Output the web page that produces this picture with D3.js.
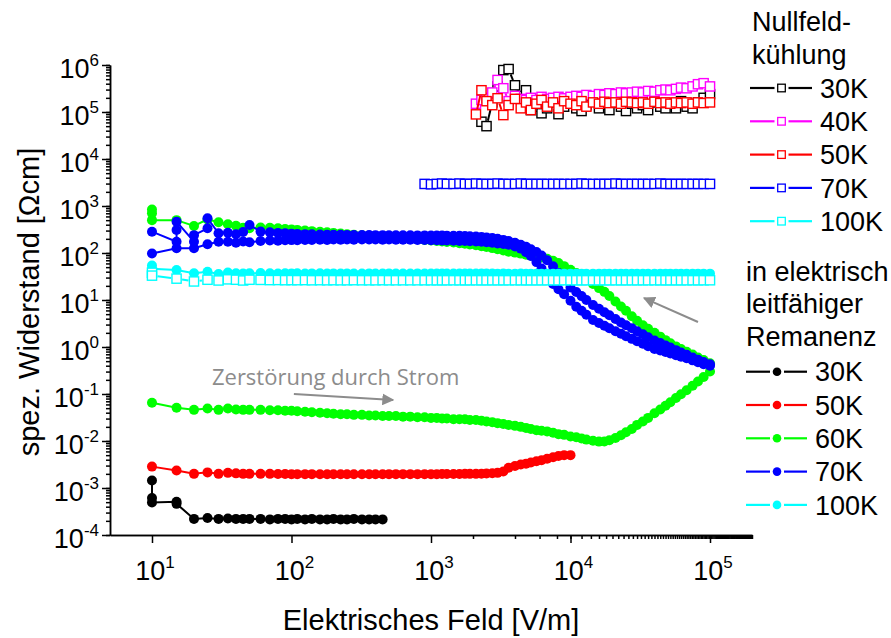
<!DOCTYPE html>
<html>
<head>
<meta charset="utf-8">
<script src="https://cdn.jsdelivr.net/npm/d3@7/dist/d3.min.js"></script>
<style>
  body { margin: 0; background: #fff; }
  svg { display: block; }
</style>
</head>
<body>
<svg id="chart" width="891" height="638"></svg>
<script>
// ---- Messfelder [V/m] ----
const feldGitter = [10, 15, 20, 25, 30, 35, 40, 45, 50,
  60, 70, 80, 90, 100, 110, 125, 140, 160, 180, 200, 225, 250, 280, 320, 360, 400, 450, 500, 560, 630, 710, 800, 900,
  1000, 1100, 1200, 1300, 1450, 1600, 1750, 1900, 2100, 2300, 2500, 2750, 3000, 3300, 3600, 4000, 4400, 4800, 5200, 5700, 6200, 6800, 7500, 8200, 9000,
  10000, 11000, 12000, 13000, 14500, 16000, 17500, 19000, 21000, 23000, 25000, 27500, 30000, 33000, 36000, 40000, 44000, 48000, 52000, 57000, 62000, 68000, 75000, 82000, 90000,
  100000];

// ---- Nullfeldkühlung (offene Quadrate) ----
const null30K_x = feldGitter.slice(42);
const null30K_y = [6.2e4, 5.0e4, 1.6e5, 3.5e5, 7.8e5, 8.2e5, 3.7e5, 2.2e5, 2.9e5, 1.1e5, 1.3e5, 9.4e4, 1.2e5, 1.6e5, 9.0e4, 1.3e5,
  1.7e5, 1.2e5, 1.05e5, 1.4e5, 1.8e5, 1.2e5, 1.5e5, 1.1e5, 1.6e5, 1.3e5, 1.05e5, 1.5e5, 1.2e5, 1.4e5, 1.1e5, 1.6e5, 1.3e5, 1.2e5, 1.5e5, 1.2e5, 1.7e5, 1.3e5, 1.2e5, 1.6e5, 2.0e5,
  2.4e5];

const null40K_x = feldGitter.slice(41);
const null40K_y = [1.5e5, 1.8e5, 2.0e5, 2.6e5, 4.8e5, 3.2e5, 1.7e5, 2.2e5, 1.9e5, 1.8e5, 2.0e5, 1.8e5, 2.1e5, 1.9e5, 2.0e5, 2.1e5, 1.95e5,
  2.1e5, 2.2e5, 2.1e5, 2.3e5, 2.2e5, 2.4e5, 2.3e5, 2.5e5, 2.4e5, 2.6e5, 2.5e5, 2.6e5, 2.7e5, 2.6e5, 2.8e5, 2.7e5, 2.9e5, 3.0e5, 2.9e5, 3.1e5, 3.3e5, 3.2e5, 3.5e5, 3.9e5, 4.1e5,
  3.5e5];

const null50K_x = feldGitter.slice(41);
const null50K_y = [8.9e4, 2.9e5, 1.7e5, 1.4e5, 1.96e5, 8.6e4, 1.4e5, 1.9e5, 1.2e5, 1.6e5, 1.1e5, 1.5e5, 1.8e5, 1.3e5, 1.6e5, 1.2e5, 1.7e5,
  1.5e5, 1.4e5, 1.7e5, 1.3e5, 1.6e5, 1.5e5, 1.65e5, 1.55e5, 1.6e5, 1.5e5, 1.65e5, 1.6e5, 1.55e5, 1.6e5, 1.5e5, 1.65e5, 1.55e5, 1.6e5, 1.5e5, 1.6e5, 1.55e5, 1.6e5, 1.5e5, 1.6e5, 1.55e5,
  1.6e5];

const null70K_x = feldGitter.slice(32);
const null70K_y = [2950, 2900, 2950, 3000, 2950, 2950, 3000, 2950, 2950, 3000, 2950, 2950, 2950, 3000, 2950, 2950, 2950, 3000, 2950, 2950, 2950, 2950, 2950, 2950, 2950, 2950,
  2950, 2950, 3000, 2950, 2950, 2950, 2950, 2950, 3000, 2950, 2950, 2950, 2950, 2950, 2950, 2950, 3000, 2950, 2950, 2950, 2950, 2950, 2950, 2950, 2950, 2950];

const null100K_x = [10].concat(feldGitter);
const null100K_y = [38, 33, 28.5, 24.8, 27, 26, 27.5, 27, 26, 27,
  26.8, 26.5, 26.6, 26.4, 26.5, 26.4, 26.5, 26.3, 26.4, 26.3, 26.4, 26.3, 26.3, 26.4, 26.3, 26.3, 26.3, 26.4, 26.3, 26.3, 26.3, 26.3, 26.3, 26.3,
  26.3, 26.3, 26.3, 26.3, 26.3, 26.3, 26.3, 26.3, 26.3, 26.3, 26.3, 26.3, 26.3, 26.3, 26.3, 26.3, 26.3, 26.3, 26.3, 26.3, 26.3, 26.3, 26.3, 26.3, 26.3,
  26.3, 26.3, 26.3, 26.3, 26.3, 26.3, 26.3, 26.3, 26.3, 26.3, 26.3, 26.3, 26.3, 26.3, 26.3, 26.3, 26.3, 26.3, 26.3, 26.3, 26.3, 26.3, 26.3, 26.3, 26.3,
  26.3];

// ---- in elektrisch leitfähiger Remanenz (gefüllte Kreise) ----
const rem30K_x = [10, 10, 10, 15].concat(feldGitter.slice(1, 27));
const rem30K_y = [1.45e-3, 6.1e-4, 4.9e-4, 5.1e-4, 4.6e-4, 2.2e-4, 2.3e-4, 2.2e-4, 2.25e-4, 2.2e-4, 2.2e-4, 2.2e-4,
  2.2e-4, 2.15e-4, 2.2e-4, 2.2e-4, 2.15e-4, 2.2e-4, 2.15e-4, 2.2e-4, 2.15e-4, 2.15e-4, 2.2e-4, 2.15e-4, 2.15e-4, 2.2e-4, 2.15e-4, 2.15e-4, 2.15e-4, 2.15e-4];

const rem50K_x = feldGitter.slice(0, 59);
const rem50K_y = [2.85e-3, 2.35e-3, 2.0e-3, 2.15e-3, 2.0e-3, 2.1e-3, 2.05e-3, 2.0e-3, 2.0e-3,
  2.0e-3, 2.0e-3, 1.98e-3, 1.98e-3, 1.97e-3, 1.97e-3, 1.97e-3, 1.97e-3, 1.96e-3, 1.96e-3, 1.96e-3, 1.96e-3, 1.96e-3, 1.96e-3, 1.96e-3, 1.96e-3, 1.96e-3, 1.96e-3, 1.97e-3, 1.97e-3, 1.97e-3, 1.97e-3, 1.97e-3, 1.97e-3,
  1.97e-3, 1.97e-3, 1.98e-3, 1.98e-3, 1.98e-3, 1.99e-3, 2.0e-3, 2.0e-3, 2.0e-3, 2.02e-3, 2.04e-3, 2.06e-3, 2.1e-3, 2.25e-3, 2.7e-3, 2.95e-3, 3.15e-3, 3.3e-3, 3.5e-3, 3.7e-3, 3.9e-3, 4.2e-3, 4.5e-3, 4.8e-3, 5.0e-3,
  5.0e-3];

// 60K: Hinweg bis 1e5 V/m, danach Rückweg
const rem60K_hin = [0.065, 0.051, 0.046, 0.049, 0.046, 0.049, 0.047, 0.046, 0.046,
  0.046, 0.045, 0.045, 0.044, 0.044, 0.043, 0.042, 0.041, 0.040, 0.039, 0.038, 0.037, 0.037, 0.036, 0.036, 0.035, 0.035, 0.034, 0.034, 0.034, 0.033, 0.033, 0.032, 0.032,
  0.031, 0.031, 0.030, 0.030, 0.029, 0.029, 0.029, 0.028, 0.028, 0.027, 0.026, 0.025, 0.024, 0.023, 0.022, 0.021, 0.020, 0.019, 0.018, 0.017, 0.0165, 0.016, 0.015, 0.014, 0.0135,
  0.0125, 0.012, 0.0113, 0.0107, 0.0101, 0.0097, 0.0098, 0.0104, 0.0116, 0.0133, 0.0153, 0.018, 0.022, 0.026, 0.031, 0.039, 0.047, 0.056, 0.067, 0.082, 0.099, 0.12, 0.15, 0.185, 0.23,
  0.30];
const rem60K_rueck = [0.45,
  0.53, 0.60, 0.69, 0.79, 0.91, 1.03, 1.2, 1.4, 1.66, 2.0, 2.45, 2.9, 3.6, 4.5, 5.9, 7.3, 9.3, 12.2, 14.9, 17.9, 22, 27.6, 32.2, 37.4, 44,
  52.5, 61, 68, 75, 80, 84, 88, 92, 97, 102, 106, 113, 120, 127, 134, 140, 146, 152, 157, 162, 167, 172, 176, 180, 185,
  190, 195, 200, 205, 210, 215, 220, 226, 232, 238, 245, 252, 260, 268, 275, 284, 292, 300, 310, 318, 325, 335, 345, 350,
  335, 345, 380, 410, 450, 520, 375, 500, 500];
const rem60K_extraX = [10, 10];
const rem60K_extraY = [700, 840];
const rem60K_x = feldGitter.concat(feldGitter.slice().reverse(), rem60K_extraX);
const rem60K_y = rem60K_hin.concat(rem60K_rueck, rem60K_extraY);

// 70K: Hinweg, Rückweg bis 60 V/m, dann Einzelmessungen bei kleinen Feldern
const rem70K_hin = [98, 126, 126, 153, 174, 174, 165, 175, 170,
  180, 185, 183, 186, 188, 186, 190, 189, 192, 190, 193, 191, 194, 192, 194, 193, 194, 192, 193, 192, 192, 191, 190, 189,
  187, 186, 185, 184, 183, 181, 180, 178, 176, 173, 170, 165, 160, 156, 150, 138, 124, 104, 86, 64, 47, 33, 22, 17, 13.2,
  9.6, 7.2, 5.9, 4.85, 3.75, 3.24, 2.83, 2.51, 2.16, 1.92, 1.70, 1.49, 1.33, 1.17, 1.04, 0.91, 0.84, 0.78, 0.725, 0.67, 0.62, 0.575, 0.52, 0.475, 0.432,
  0.40];
const rem70K_rueck = [0.43,
  0.478, 0.537, 0.60, 0.68, 0.767, 0.857, 0.97, 1.07, 1.21, 1.37, 1.61, 1.86, 2.17, 2.5, 2.91, 3.33, 3.93, 4.73, 5.5, 6.5, 7.8, 10.0, 12.1, 14.8, 18.5,
  26.6, 37.5, 52, 70, 88, 105, 120, 135, 150, 165, 180, 190, 200, 208, 215, 220, 225, 228, 230, 232, 233, 234, 235, 236, 236,
  237, 237, 238, 238, 239, 239, 240, 240, 241, 241, 242, 243, 244, 245, 246, 248, 250, 252, 255, 258, 262, 268, 275, 285];
const rem70K_kleinX = [50, 45, 40, 35, 30, 25, 25, 20, 20, 15, 15, 15, 10];
const rem70K_kleinY = [394, 280, 250, 270, 263, 548, 335, 240, 174, 465, 309, 174, 284];
const rem70K_x = feldGitter.concat(feldGitter.slice(9).reverse(), rem70K_kleinX);
const rem70K_y = rem70K_hin.concat(rem70K_rueck, rem70K_kleinY);

const rem100K_x = [10].concat(feldGitter);
const rem100K_y = [54, 46, 43.5, 37, 40, 35.7, 38.5, 37, 36.5, 37,
  37.5, 37, 36.5, 37, 36.8, 37, 36.6, 36.8, 37, 36.6, 36.8, 36.6, 36.8, 36.6, 36.6, 36.8, 36.6, 36.6, 36.8, 36.6, 36.6, 36.6, 36.8, 36.6,
  36.6, 36.5, 36.6, 36.5, 36.5, 36.6, 36.5, 36.5, 36.5, 36.5, 36.5, 36.5, 36.4, 36.5, 36.4, 36.4, 36.5, 36.4, 36.4, 36.4, 36.4, 36.4, 36.4, 36.4, 36.4,
  36.4, 36.4, 36.4, 36.4, 36.4, 36.4, 36.4, 36.4, 36.4, 36.4, 36.4, 36.4, 36.4, 36.4, 36.4, 36.4, 36.4, 36.4, 36.4, 36.4, 36.4, 36.4, 36.4, 36.4, 36.4,
  36.4];

// ---- Legende / Achsen ----
const legendeNullfeld = ['30K', '40K', '50K', '70K', '100K'];
const farbenNullfeld = ['#000000', '#ff00ff', '#ff0000', '#0000ff', '#00ffff'];
const legendeRemanenz = ['30K', '50K', '60K', '70K', '100K'];
const farbenRemanenz = ['#000000', '#ff0000', '#00ff00', '#0000ff', '#00ffff'];
const xTickExps = [1, 2, 3, 4, 5];
const yTickExps = [-4, -3, -2, -1, 0, 1, 2, 3, 4, 5, 6];

// Pfeile mit Beschriftung (Datenkoordinaten)
const pfeilStrom = { von: [104, 0.1], nach: [535, 0.0744] };
const textStrom = { x: 26.9, y: 0.155, text: 'Zerstörung durch Strom' };
const pfeilRueck = { von: [82000, 3.4], nach: [33650, 11] };

// ---------------------------------------------------------
const FONT = '"Liberation Sans", Arial, Helvetica, sans-serif';
const svg = d3.select('#chart');
const x = d3.scaleLog().domain([5, 2e5]).range([110, 752]);
const y = d3.scaleLog().domain([1e-4, 1e6]).range([535, 65]);

const nullReihen = [
  { x: null30K_x, y: null30K_y },
  { x: null40K_x, y: null40K_y },
  { x: null50K_x, y: null50K_y },
  { x: null70K_x, y: null70K_y },
  { x: null100K_x, y: null100K_y }
].map((r, i) => Object.assign(r, { farbe: farbenNullfeld[i], symbol: 'square' }));

const remReihen = [
  { x: rem30K_x, y: rem30K_y },
  { x: rem50K_x, y: rem50K_y },
  { x: rem60K_x, y: rem60K_y },
  { x: rem70K_x, y: rem70K_y },
  { x: rem100K_x, y: rem100K_y }
].map((r, i) => Object.assign(r, { farbe: farbenRemanenz[i], symbol: 'circle' }));

const HALB = 4.6;     // halbe Kantenlänge Quadrat
const RADIUS = 5;     // Kreisradius

function luecke(p, q, g) {
  const dx = q[0] - p[0], dy = q[1] - p[1];
  const d = Math.hypot(dx, dy);
  if (d <= 2 * g) return null;
  return [p[0] + dx * g / d, p[1] + dy * g / d, q[0] - dx * g / d, q[1] - dy * g / d];
}

const plot = svg.append('g');

function zeichneReihe(r) {
  const n = Math.min(r.x.length, r.y.length);
  const pts = d3.range(n).map(i => [x(r.x[i]), y(r.y[i])]);
  const g = plot.append('g');
  if (r.symbol === 'square') {
    const segs = [];
    for (let i = 0; i < n - 1; i++) {
      const s = luecke(pts[i], pts[i + 1], HALB + 1);
      if (s) segs.push(s);
    }
    g.selectAll('line').data(segs).join('line')
      .attr('x1', d => d[0]).attr('y1', d => d[1]).attr('x2', d => d[2]).attr('y2', d => d[3])
      .attr('stroke', r.farbe).attr('stroke-width', 2);
    g.selectAll('rect').data(pts).join('rect')
      .attr('x', d => d[0] - HALB).attr('y', d => d[1] - HALB)
      .attr('width', 2 * HALB).attr('height', 2 * HALB)
      .attr('fill', '#fff').attr('stroke', r.farbe).attr('stroke-width', 1.4);
  } else {
    g.append('path').attr('d', d3.line()(pts))
      .attr('fill', 'none').attr('stroke', r.farbe).attr('stroke-width', 2);
    g.selectAll('circle').data(pts).join('circle')
      .attr('cx', d => d[0]).attr('cy', d => d[1]).attr('r', RADIUS)
      .attr('fill', r.farbe);
  }
}

remReihen.forEach(zeichneReihe);
nullReihen.forEach(zeichneReihe);

// ---- Achsen ----
const achsen = svg.append('g').attr('font-family', FONT);
const xMinor = d3.axisBottom(x).tickValues(x.ticks(100)).tickSize(4).tickSizeOuter(0).tickFormat('');
const xMajor = d3.axisBottom(x).tickValues(xTickExps.map(e => Math.pow(10, e))).tickSize(8).tickSizeOuter(0).tickFormat('');
const yMinor = d3.axisLeft(y).tickValues(y.ticks(100)).tickSize(4).tickSizeOuter(0).tickFormat('');
const yMajor = d3.axisLeft(y).tickValues(yTickExps.map(e => Math.pow(10, e))).tickSize(8).tickSizeOuter(0).tickFormat('');
[[xMinor, 'x'], [xMajor, 'x'], [yMinor, 'y'], [yMajor, 'y']].forEach(([ax, k]) => {
  const g = achsen.append('g')
    .attr('transform', k === 'x' ? 'translate(0,535)' : 'translate(110,0)')
    .call(ax);
  g.selectAll('path, line').attr('stroke', '#000').attr('stroke-width', 1.5);
});

function hochLabel(sel, exp) {
  sel.append('tspan').text('10');
  sel.append('tspan').attr('font-size', 17).attr('dy', -12).text(exp);
}
xTickExps.forEach(e => {
  achsen.append('text').attr('x', x(Math.pow(10, e)) + 3).attr('y', 580)
    .attr('text-anchor', 'middle').attr('font-size', 27).attr('fill', '#000')
    .call(hochLabel, e);
});
yTickExps.forEach(e => {
  achsen.append('text').attr('x', 99).attr('y', y(Math.pow(10, e)) + 13)
    .attr('text-anchor', 'end').attr('font-size', 27).attr('fill', '#000')
    .call(hochLabel, e);
});

achsen.append('text').attr('x', 431).attr('y', 630).attr('text-anchor', 'middle')
  .attr('font-size', 29).text('Elektrisches Feld [V/m]');
achsen.append('text').attr('transform', 'translate(39,302) rotate(-90)').attr('text-anchor', 'middle')
  .attr('font-size', 29).text('spez. Widerstand [Ωcm]');

// ---- Anmerkungen ----
const GRAU = '#8c8c8c';
svg.append('defs').append('marker').attr('id', 'spitze')
  .attr('viewBox', '0 0 10 10').attr('refX', 9).attr('refY', 5)
  .attr('markerWidth', 6).attr('markerHeight', 6).attr('orient', 'auto')
  .append('path').attr('d', 'M0,0 L10,5 L0,10 z').attr('fill', GRAU);
[pfeilStrom, pfeilRueck].forEach(p => {
  svg.append('line')
    .attr('x1', x(p.von[0])).attr('y1', y(p.von[1]))
    .attr('x2', x(p.nach[0])).attr('y2', y(p.nach[1]))
    .attr('stroke', GRAU).attr('stroke-width', 2).attr('marker-end', 'url(#spitze)');
});
svg.append('text').attr('x', x(textStrom.x)).attr('y', y(textStrom.y))
  .attr('font-family', '"Open Sans", sans-serif').attr('font-size', 22).attr('fill', GRAU)
  .text(textStrom.text);

// ---- Legende ----
const leg = svg.append('g').attr('font-family', FONT).attr('font-size', 27).attr('fill', '#000');
function legendBlock(titel, tx, ty0, eintraege, farben, symbol, y0, lx0, lx1, sx, textX) {
  titel.forEach((t, i) => leg.append('text').attr('x', tx).attr('y', ty0 + i * 32.5 + 9.7).text(t));
  eintraege.forEach((t, i) => {
    const cy = y0 + i * 33.3;
    const g = leg.append('g');
    g.append('line').attr('x1', lx0).attr('x2', sx - 7).attr('y1', cy).attr('y2', cy)
      .attr('stroke', farben[i]).attr('stroke-width', 2.2);
    g.append('line').attr('x1', sx + 7).attr('x2', lx1).attr('y1', cy).attr('y2', cy)
      .attr('stroke', farben[i]).attr('stroke-width', 2.2);
    if (symbol === 'square') {
      g.append('rect').attr('x', sx - 3.8).attr('y', cy - 3.8).attr('width', 7.6).attr('height', 7.6)
        .attr('fill', '#fff').attr('stroke', farben[i]).attr('stroke-width', 1.3);
    } else {
      g.append('circle').attr('cx', sx).attr('cy', cy).attr('r', 4.3).attr('fill', farben[i]);
    }
    g.append('text').attr('x', textX).attr('y', cy + 9.7).text(t);
  });
}
legendBlock(['Nullfeld-', 'kühlung'], 752, 21.7, legendeNullfeld, farbenNullfeld, 'square', 88, 750, 812, 781.5, 820);
legendBlock(['in elektrisch', 'leitfähiger', 'Remanenz'], 746, 271, legendeRemanenz, farbenRemanenz, 'circle', 371.7, 746, 807, 777, 815);
</script>
</body>
</html>
